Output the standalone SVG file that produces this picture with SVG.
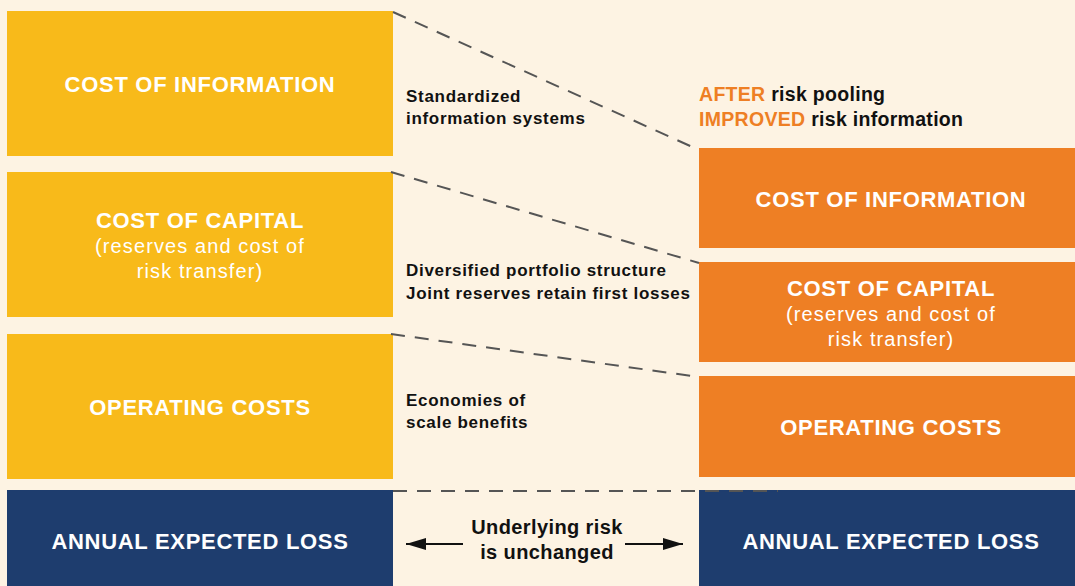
<svg xmlns="http://www.w3.org/2000/svg" width="1075" height="586" viewBox="0 0 1075 586">
<style>
.bg{fill:#FDF3E3}
.yel{fill:#F8BA1A}
.org{fill:#EE7F24}
.navy{fill:#1E3D6E}
.t{font-family:"Liberation Sans",Arial,sans-serif;fill:#fff;text-anchor:middle}
.h{font-weight:bold;font-size:22px;letter-spacing:0.7px}
.s{font-size:20px;letter-spacing:1.1px}
.m{font-family:"Liberation Sans",Arial,sans-serif;font-weight:bold;font-size:17px;letter-spacing:0.7px;fill:#111}
.a{font-family:"Liberation Sans",Arial,sans-serif;font-weight:bold;font-size:19.5px;letter-spacing:0.3px;fill:#111}
.u{font-family:"Liberation Sans",Arial,sans-serif;font-weight:bold;font-size:20px;letter-spacing:0.4px;fill:#111;text-anchor:middle}
.o{fill:#EE7F24}
.d{stroke:#555;stroke-width:2;stroke-dasharray:14 10;fill:none}
.ar{stroke:#111;stroke-width:2.2;fill:none}
</style>
<defs>
<marker id="ah2" viewBox="0 0 20 12" markerWidth="20" markerHeight="12" refX="20" refY="6" orient="auto" markerUnits="userSpaceOnUse">
<path d="M0,0 L20,6 L0,12 Z" fill="#111"/>
</marker>
</defs>
<rect class="bg" x="0" y="0" width="1075" height="586"/>

<g id="left-info">
<rect class="yel" x="7" y="11" width="386" height="145"/>
<text class="t h" x="200" y="92">COST OF INFORMATION</text>
</g>
<g id="left-capital">
<rect class="yel" x="7" y="172" width="386" height="145"/>
<text class="t h" x="200" y="228">COST OF CAPITAL</text>
<text class="t s" x="200" y="253">(reserves and cost of</text>
<text class="t s" x="200" y="278">risk transfer)</text>
</g>
<g id="left-operating">
<rect class="yel" x="7" y="334" width="386" height="145"/>
<text class="t h" x="200" y="415">OPERATING COSTS</text>
</g>
<g id="left-loss">
<rect class="navy" x="7" y="490" width="386" height="96"/>
<text class="t h" x="200" y="549">ANNUAL EXPECTED LOSS</text>
</g>

<g id="right-info">
<rect class="org" x="699" y="148" width="376" height="100"/>
<text class="t h" x="891" y="207">COST OF INFORMATION</text>
</g>
<g id="right-capital">
<rect class="org" x="699" y="262" width="376" height="100"/>
<text class="t h" x="891" y="296">COST OF CAPITAL</text>
<text class="t s" x="891" y="321">(reserves and cost of</text>
<text class="t s" x="891" y="346">risk transfer)</text>
</g>
<g id="right-operating">
<rect class="org" x="699" y="376" width="376" height="101"/>
<text class="t h" x="891" y="435">OPERATING COSTS</text>
</g>
<g id="right-loss">
<rect class="navy" x="699" y="490" width="376" height="96"/>
<text class="t h" x="891" y="549">ANNUAL EXPECTED LOSS</text>
</g>

<g id="connectors">
<line class="d" x1="393" y1="12" x2="699" y2="150"/>
<line class="d" x1="391" y1="172" x2="699" y2="263"/>
<line class="d" x1="391" y1="334" x2="699" y2="377"/>
<line class="d" x1="393" y1="491" x2="778" y2="491"/>
<line class="ar" x1="463" y1="544" x2="406" y2="544" marker-end="url(#ah2)"/>
<line class="ar" x1="625" y1="544" x2="683" y2="544" marker-end="url(#ah2)"/>
</g>

<g id="labels">
<text class="m" x="406" y="102">Standardized</text>
<text class="m" x="406" y="124">information systems</text>
<text class="m" x="406" y="276">Diversified portfolio structure</text>
<text class="m" x="406" y="299">Joint reserves retain first losses</text>
<text class="m" x="406" y="406">Economies of</text>
<text class="m" x="406" y="428">scale benefits</text>
<text class="a" x="699" y="101"><tspan class="o">AFTER</tspan> risk pooling</text>
<text class="a" x="699" y="126"><tspan class="o">IMPROVED</tspan> risk information</text>
<text class="u" x="547" y="534">Underlying risk</text>
<text class="u" x="547" y="559">is unchanged</text>
</g>
</svg>
